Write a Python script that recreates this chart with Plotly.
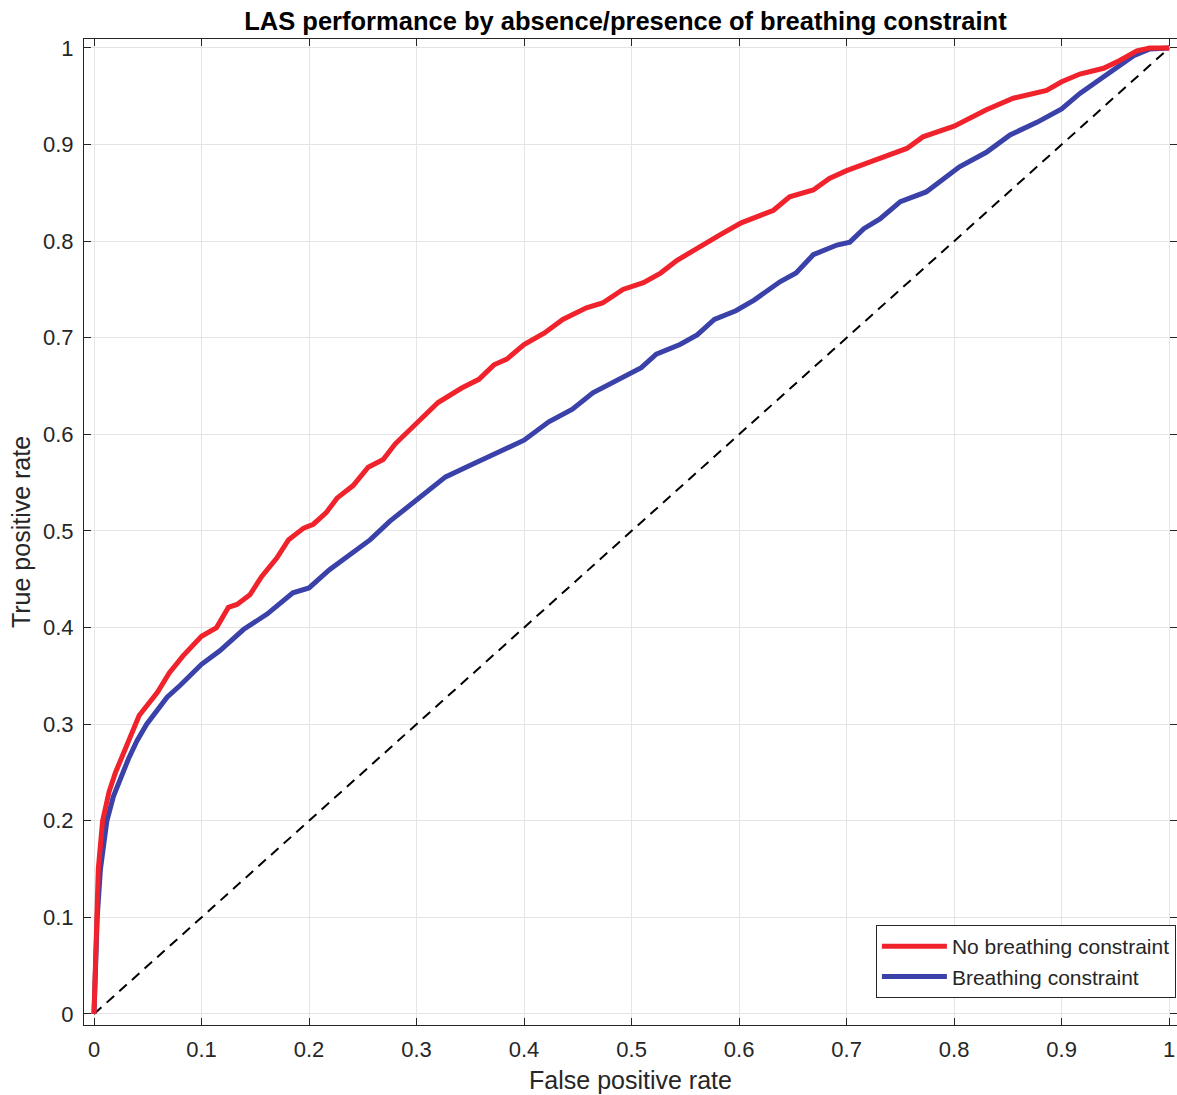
import plotly.graph_objects as go

# ROC curves
fpr_no_bc = [0, 0.001, 0.002, 0.004, 0.008, 0.014, 0.02, 0.026, 0.035, 0.042, 0.059,
             0.070, 0.083, 0.1, 0.114, 0.125, 0.133, 0.145, 0.156, 0.170, 0.181, 0.195,
             0.204, 0.216, 0.226, 0.241, 0.255, 0.269, 0.28, 0.3, 0.32, 0.342, 0.358,
             0.372, 0.384, 0.4, 0.419, 0.436, 0.458, 0.473, 0.492, 0.511, 0.527, 0.542,
             0.561, 0.583, 0.602, 0.619, 0.632, 0.647, 0.669, 0.684, 0.7, 0.722, 0.747,
             0.756, 0.771, 0.8, 0.83, 0.855, 0.886, 0.9, 0.917, 0.939, 0.954, 0.97,
             0.982, 1.0]
tpr_no_bc = [0, 0.05, 0.1, 0.15, 0.2, 0.23, 0.25, 0.266, 0.29, 0.309, 0.333,
             0.353, 0.371, 0.391, 0.4, 0.421, 0.424, 0.434, 0.453, 0.472, 0.491, 0.503,
             0.507, 0.519, 0.534, 0.547, 0.566, 0.574, 0.59, 0.611, 0.633, 0.648, 0.657,
             0.672, 0.678, 0.693, 0.705, 0.719, 0.731, 0.736, 0.75, 0.757, 0.767, 0.78,
             0.793, 0.807, 0.819, 0.827, 0.832, 0.846, 0.853, 0.865, 0.873, 0.882, 0.892,
             0.896, 0.908, 0.919, 0.936, 0.948, 0.956, 0.965, 0.973, 0.979, 0.987, 0.997,
             1.0, 1.0]

fpr_bc = [0, 0.001, 0.003, 0.006, 0.012, 0.018, 0.025, 0.032, 0.04, 0.049, 0.068,
          0.08, 0.1, 0.117, 0.139, 0.161, 0.185, 0.2, 0.219, 0.241, 0.257, 0.275,
          0.3, 0.327, 0.352, 0.38, 0.4, 0.423, 0.445, 0.464, 0.492, 0.509, 0.523,
          0.545, 0.561, 0.577, 0.597, 0.614, 0.638, 0.653, 0.669, 0.691, 0.703, 0.716,
          0.731, 0.75, 0.774, 0.79, 0.805, 0.83, 0.852, 0.877, 0.9, 0.917, 0.936,
          0.954, 0.967, 0.982, 1.0]
tpr_bc = [0, 0.05, 0.1, 0.15, 0.2, 0.225, 0.245, 0.264, 0.283, 0.3, 0.328,
          0.34, 0.362, 0.376, 0.398, 0.414, 0.436, 0.441, 0.46, 0.478, 0.491, 0.51,
          0.532, 0.556, 0.569, 0.584, 0.594, 0.613, 0.626, 0.643, 0.66, 0.669, 0.683,
          0.693, 0.703, 0.719, 0.728, 0.739, 0.758, 0.767, 0.786, 0.796, 0.799, 0.813,
          0.823, 0.841, 0.851, 0.865, 0.877, 0.892, 0.91, 0.923, 0.937, 0.953, 0.968,
          0.982, 0.992, 0.999, 1.0]

diag = [0, 1]
ticks = [0, 0.1, 0.2, 0.3, 0.4, 0.5, 0.6, 0.7, 0.8, 0.9, 1]
tick_text = ["0", "0.1", "0.2", "0.3", "0.4", "0.5", "0.6", "0.7", "0.8", "0.9", "1"]

FONT = 'Liberation Sans, Arial, Helvetica'

fig = go.Figure()
fig.add_trace(go.Scatter(x=diag, y=diag, mode='lines', showlegend=False,
                         line=dict(color='black', width=2, dash='10px,7px')))
fig.add_trace(go.Scatter(x=fpr_bc, y=tpr_bc, mode='lines', showlegend=False,
                         line=dict(color='#3a41a8', width=5)))
fig.add_trace(go.Scatter(x=fpr_no_bc, y=tpr_no_bc, mode='lines', name='No breathing constraint',
                         line=dict(color='#f0222b', width=5)))
# legend entry for the blue curve, listed after the red one
fig.add_trace(go.Scatter(x=[None], y=[None], mode='lines', name='Breathing constraint',
                         line=dict(color='#3a41a8', width=5)))

axis_common = dict(
    tickvals=ticks, ticktext=tick_text,
    showline=True, linecolor='#262626', linewidth=1, mirror='ticks',
    ticks='inside', ticklen=7, tickcolor='#262626',
    showgrid=True, gridcolor='#e4e4e4', gridwidth=1,
    zeroline=False, automargin=False, ticklabelstandoff=5,
    tickfont=dict(family=FONT, size=22, color='#262626'),
)

fig.update_xaxes(range=[-0.0093, 1.0073],
                 title=dict(text='False positive rate', standoff=10,
                            font=dict(family=FONT, size=25, color='#262626')),
                 **axis_common)
fig.update_yaxes(range=[-0.0114, 1.0093],
                 title=dict(text='True positive rate', standoff=5,
                            font=dict(family=FONT, size=25, color='#262626')),
                 **axis_common)

fig.update_layout(
    width=1177, height=1095,
    margin=dict(l=84, r=0, t=39, b=70),
    plot_bgcolor='white', paper_bgcolor='white',
    title=dict(text='<b>LAS performance by absence/presence of breathing constraint</b>',
               x=0.5314, xanchor='center', y=0.9808, yanchor='middle',
               font=dict(family=FONT, size=25.5, color='black')),
    legend=dict(x=0.999, xanchor='right', y=0.0274, yanchor='bottom',
                bgcolor='white', bordercolor='#262626', borderwidth=1,
                font=dict(family=FONT, size=21, color='#262626'),
                itemwidth=65, tracegroupgap=0),
    showlegend=True,
)

# drop the browser's default 8px body margin so the figure fills the window
fig.write_html("out.html", config={'displayModeBar': False},
               post_script="document.body.style.margin='0';")
